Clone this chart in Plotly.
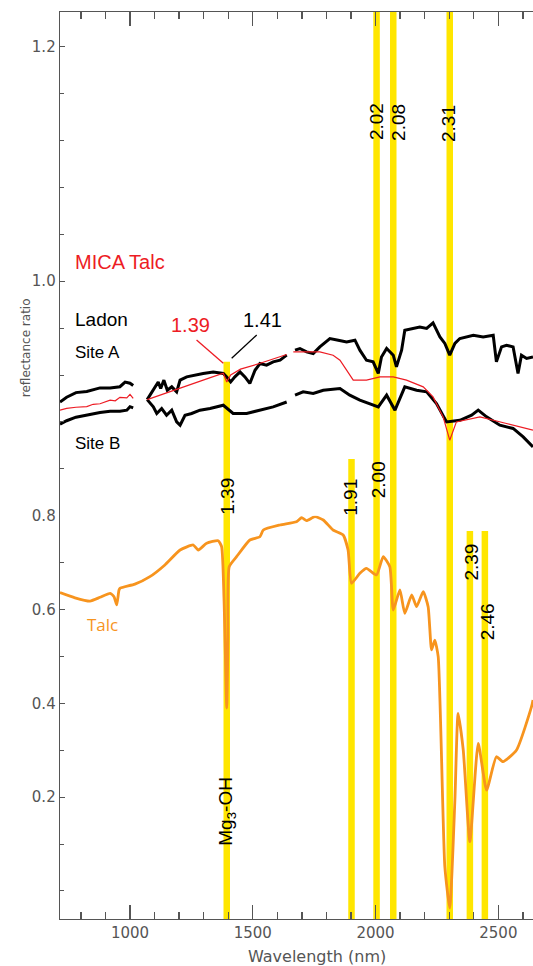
import plotly.graph_objects as go

# ---------------- data (wavelength in nm, reflectance ratio) ----------------
siteA_nm = [715, 742, 780, 824, 878, 919, 959, 980, 1000, 1013, None,
            1070, 1095, 1115, 1125, 1138, 1152, 1170, 1190, 1204, 1231, 1258, 1298, 1339, 1380, 1394,
            1410, 1427, 1448, 1468, 1488, 1509, 1529, 1556, 1583, 1611, 1638, None,
            1672, 1692, 1719, 1746, 1773, 1814, 1848, 1882, 1916, 1936, 1963, 1990, 2011, 2024, 2045,
            2072, 2085, 2106, 2119, 2153, 2180, 2208, 2234, 2262, 2282, 2302, 2323, 2343, 2370, 2398,
            2438, 2479, 2492, 2513, 2533, 2560, 2580, 2594, 2615, 2641]
siteA_r = [0.897, 0.901, 0.905, 0.906, 0.909, 0.909, 0.910, 0.914, 0.913, 0.911, None,
           0.899, 0.907, 0.9141, 0.9085, 0.9156, 0.907, 0.9099, 0.9056, 0.9156, 0.9184, 0.9198, 0.9213,
           0.9226, 0.9213, 0.9184, 0.9141, 0.9184, 0.9226, 0.9184, 0.9128, 0.924, 0.9298, 0.9284,
           0.9312, 0.9326, 0.9369, None,
           0.9412, 0.9426, 0.9397, 0.9383, 0.944, 0.9511, 0.9497, 0.9482, 0.9497, 0.9412, 0.9326,
           0.9312, 0.9213, 0.9354, 0.9426, 0.9369, 0.9269, 0.9412, 0.9582, 0.9597, 0.961, 0.9597,
           0.9644, 0.9525, 0.9469, 0.9369, 0.9469, 0.9511, 0.9525, 0.9539, 0.9525, 0.9539, 0.9312,
           0.944, 0.9454, 0.944, 0.9213, 0.9369, 0.9341, 0.9354]

siteB_nm = [715, 742, 780, 824, 878, 919, 959, 987, 1000, 1013, None,
            1070, 1095, 1109, 1129, 1149, 1170, 1190, 1204, 1224, 1251, 1285, 1326, 1380, 1420, 1475,
            1529, 1583, 1638, None,
            1672, 1705, 1746, 1787, 1855, 1895, 1936, 1977, 2011, 2045, 2079, 2119, 2167, 2208, 2248,
            2289, 2343, 2391, 2418, 2452, 2506, 2560, 2601, 2641]
siteB_r = [0.878, 0.881, 0.884, 0.886, 0.888, 0.889, 0.889, 0.890, 0.893, 0.892, None,
           0.899, 0.8928, 0.8872, 0.8914, 0.8857, 0.890, 0.880, 0.8772, 0.8857, 0.8872, 0.890, 0.8914,
           0.8942, 0.8872, 0.8872, 0.890, 0.8928, 0.897, None,
           0.9028, 0.9056, 0.9042, 0.907, 0.9085, 0.9028, 0.8985, 0.8957, 0.8928, 0.9028, 0.890,
           0.9099, 0.907, 0.9056, 0.8957, 0.880, 0.8814, 0.8857, 0.890, 0.8843, 0.8772, 0.8744,
           0.8672, 0.8587]

mica_nm = [715, 742, 780, 824, 850, 878, 919, 940, 959, 987, 1000, 1013, None,
           1070, 1150, 1250, 1330, 1380, 1394, 1410, 1450, 1530, 1600, 1638, None,
           1665, 1773, 1827, 1855, 1882, 1909, 1963, 2018, 2072, 2126, 2194, 2234, 2275, 2302, 2329,
           2425, 2533, 2641]
mica_r = [0.890, 0.8915, 0.8925, 0.893, 0.895, 0.8955, 0.8985, 0.898, 0.901, 0.9005, 0.9035, 0.900, None,
          0.899, 0.905, 0.912, 0.918, 0.9215, 0.914, 0.920, 0.925, 0.930, 0.935, 0.9375, None,
          0.9397, 0.9397, 0.9369, 0.9326, 0.9241, 0.9156, 0.9156, 0.9184, 0.9184, 0.9156, 0.9099,
          0.9013, 0.8843, 0.8644, 0.880, 0.8843, 0.8786, 0.873]

talc_nm = [715, 776, 837, 878, 919, 935, 946, 955, 959, 1020, 1081, 1142, 1204, 1258, 1278, 1312,
           1359, 1373, 1383, 1394, 1399, 1404, 1434, 1488, 1529, 1543, 1611, 1678, 1699, 1719, 1753,
           1787, 1827, 1868, 1888, 1902, 1936, 1963, 2004, 2031, 2058, 2072, 2099, 2119, 2147, 2167,
           2194, 2214, 2228, 2241, 2255, 2282, 2302, 2323, 2336, 2357, 2384, 2418, 2452, 2492, 2519,
           2574, 2635, 2641]
talc_r = [0.636, 0.625, 0.618, 0.626, 0.6345, 0.627, 0.610, 0.641, 0.6452, 0.654, 0.670, 0.695,
          0.7269, 0.7375, 0.7269, 0.7412, 0.7467, 0.7339, 0.620, 0.390, 0.535, 0.6913, 0.7126, 0.7482,
          0.7552, 0.7695, 0.7802, 0.7872, 0.7957, 0.7893, 0.7979, 0.7908, 0.7695, 0.7588, 0.7269,
          0.6559, 0.6772, 0.6878, 0.6736, 0.7126, 0.6913, 0.5989, 0.6416, 0.5919, 0.6309, 0.606,
          0.638, 0.606, 0.5137, 0.5349, 0.4994, 0.0516, -0.0365, 0.1938, 0.3787, 0.3004, 0.1049,
          0.3147, 0.2151, 0.2861, 0.2755, 0.3004, 0.3927, 0.407]

band_nm = [1394, 1902, 2004, 2072, 2302, 2384, 2445]

band_labels = ["2.02", "2.08", "2.31", "1.39", "1.91", "2.00", "2.39", "2.46"]
band_label_nm = [2002, 2091, 2295, 1394, 1899, 2011, 2387, 2455]

x_ticks = [1000, 1500, 2000, 2500]
upper_ticks = [0.8, 1.0, 1.2]
lower_ticks = [0.2, 0.4, 0.6]

# ---------------- layout helpers ----------------
FIG_W, FIG_H = 533, 966
TOP, BOT = 12, 919            # plot area rows
LEFT = 60                     # plot area left column
H_PLOT = BOT - TOP
W_PLOT = FIG_W - LEFT

def py(pix):                  # pixel row -> paper fraction
    return (BOT - pix) / H_PLOT

def px(pix):                  # pixel column -> paper fraction
    return (pix - LEFT) / W_PLOT

SPLIT = py(515.7)

BLACK = "#000000"
RED = "#ED1C24"
ORANGE = "#F7941E"
YELLOW = "#FFE600"
GRAY = "#555555"

fig = go.Figure()
fig.add_trace(go.Scatter(x=siteA_nm, y=siteA_r, mode="lines", xaxis="x2", yaxis="y",
                         line=dict(color=BLACK, width=3), connectgaps=False, hoverinfo="skip"))
fig.add_trace(go.Scatter(x=siteB_nm, y=siteB_r, mode="lines", xaxis="x2", yaxis="y",
                         line=dict(color=BLACK, width=3), connectgaps=False, hoverinfo="skip"))
fig.add_trace(go.Scatter(x=mica_nm, y=mica_r, mode="lines", xaxis="x2", yaxis="y",
                         line=dict(color=RED, width=1.2), connectgaps=False, hoverinfo="skip"))
fig.add_trace(go.Scatter(x=talc_nm, y=talc_r, mode="lines", xaxis="x", yaxis="y2",
                         line=dict(color=ORANGE, width=2.8, shape="spline", smoothing=0.5),
                         hoverinfo="skip"))

# yellow band bars
band_tops = [py(361.7), py(459), 1, 1, 1, py(531), py(531)]
for xb, top in zip(band_nm, band_tops):
    fig.add_shape(type="line", xref="x", yref="paper", x0=xb, x1=xb, y0=0, y1=top,
                  line=dict(color=YELLOW, width=6.5), layer="below")

# band labels (rotated)
label_rows = [122, 122, 124, 496, 497, 480, 562, 622]
for txt, xl, row in zip(band_labels, band_label_nm, label_rows):
    fig.add_annotation(x=xl, y=py(row), xref="x", yref="paper", text=txt, textangle=-90,
                       showarrow=False, font=dict(family="Liberation Sans, Arial", size=19, color=BLACK),
                       xanchor="center", yanchor="middle")

fig.add_annotation(x=1394, y=py(847.5), xref="x", yref="paper", text="Mg<sub>3</sub>-OH",
                   textangle=-90, showarrow=False,
                   font=dict(family="Liberation Sans, Arial", size=19, color=BLACK))

# series labels
def label(txt, x, row, color, size, anchor="left", family="Liberation Sans, Arial"):
    fig.add_annotation(x=x, y=py(row), xref="x", yref="paper", text=txt, showarrow=False,
                       xanchor=anchor, yanchor="middle", font=dict(family=family, size=size, color=color))

label("MICA Talc", 768, 262, RED, 20)
label("Ladon", 768, 319, BLACK, 19)
label("Site A", 768, 353, BLACK, 17)
label("Site B", 766, 443, BLACK, 17)
label("1.39", 1246, 325, RED, 20, "center")
label("1.41", 1539, 320, BLACK, 20, "center")
label("Talc", 817, 624, ORANGE, 17, "left", "Open Sans, Lato")

# leader lines
fig.add_shape(type="line", xref="x", yref="paper", x0=1271, x1=1380, y0=py(340), y1=py(363.3),
              line=dict(color=RED, width=1.3))
fig.add_shape(type="line", xref="x", yref="paper", x0=1516, x1=1414, y0=py(335), y1=py(358.3),
              line=dict(color=BLACK, width=1.3))

# axis titles
fig.add_annotation(x=px(16.7), y=py(347.5), xref="paper", yref="paper",
                   text="reflectance ratio", textangle=-90, showarrow=False,
                   font=dict(family="DejaVu Sans, Arial", size=12, color=GRAY))
fig.add_annotation(x=px(316.7), y=py(956.7), xref="paper", yref="paper",
                   text="Wavelength (nm)", showarrow=False, yanchor="middle",
                   font=dict(family="DejaVu Sans, Arial", size=16, color=GRAY))

XR = [715, 2641]
axis_common = dict(showgrid=False, zeroline=False, showline=True, linecolor=GRAY, linewidth=1.3)

fig.update_layout(
    width=FIG_W, height=FIG_H,
    margin=dict(l=LEFT, r=0, t=TOP, b=FIG_H - BOT, autoexpand=False),
    paper_bgcolor="white", plot_bgcolor="white",
    showlegend=False,
    xaxis=dict(domain=[0, 1], anchor="y2", range=XR, tickvals=x_ticks,
               ticks="inside", ticklen=14, tickcolor=GRAY, tickwidth=1.3,
               minor=dict(dtick=100, tick0=0, ticks="inside", ticklen=7, tickcolor=GRAY),
               tickfont=dict(family="DejaVu Sans, Arial", size=15, color=GRAY), **axis_common),
    xaxis2=dict(domain=[0, 1], anchor="y", range=XR, matches="x", side="top", tickvals=x_ticks,
                showticklabels=False, ticks="inside", ticklen=14, tickcolor=GRAY, tickwidth=1.3,
                minor=dict(dtick=100, tick0=0, ticks="inside", ticklen=7, tickcolor=GRAY),
                **axis_common),
    yaxis=dict(domain=[SPLIT, 1], anchor="x2", range=[0.8, 0.8 + (515.7 - TOP) / 1172.5],
               tickvals=upper_ticks, ticktext=["0.8", "1.0", "1.2"],
               ticks="inside", ticklen=5, tickcolor=GRAY,
               minor=dict(dtick=0.04, tick0=0.8, ticks="inside", ticklen=4, tickcolor=GRAY),
               tickfont=dict(family="DejaVu Sans, Arial", size=15, color=GRAY), **axis_common),
    yaxis2=dict(domain=[0, SPLIT], anchor="x", range=[0.8 - (BOT - 515.7) / 469, 0.8],
                tickvals=lower_ticks, ticktext=["0.2", "0.4", "0.6"],
                ticks="inside", ticklen=5, tickcolor=GRAY,
                minor=dict(dtick=0.1, tick0=0, ticks="inside", ticklen=4, tickcolor=GRAY),
                tickfont=dict(family="DejaVu Sans, Arial", size=15, color=GRAY), **axis_common),
)

# remove the browser's default 8px page margin so the figure fills the window exactly
fig.write_html("out.html",
               config={"displayModeBar": False, "staticPlot": True},
               post_script="document.body.style.margin='0';document.body.style.overflow='hidden';")
